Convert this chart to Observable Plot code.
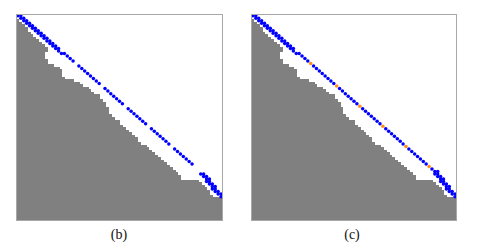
<!DOCTYPE html>
<html>
<head>
<meta charset="utf-8">
<script src="https://cdn.jsdelivr.net/npm/d3@7"></script>
<script src="https://cdn.jsdelivr.net/npm/@observablehq/plot@0.6"></script>
<style>
  html, body { margin: 0; padding: 0; background: #fff; }
  #wrap { position: relative; width: 496px; height: 252px; overflow: hidden; }
  .panel { position: absolute; top: 0; }
  .lab { position: absolute; top: 227px; font-family: "Liberation Serif", "DejaVu Serif", serif; font-size: 14px; color: #111; transform: translateX(-50%); }
</style>
</head>
<body>
<div id="wrap"></div>
<script>
// Matrix size: columns and rows
const nCols = 71;
const nRows = 82;

// Gray region: number of gray cells (from the left) in each row, rows 0..81 from top
const grayEnd = [
  0,0,1,2,3,4,4,5,6,7,8,9,10,11,
  11,10,10,10,11,11,
  13,15,16,16,16,17,20,22,23,25,
  26,27,29,29,30,31,31,32,32,32,
  33,34,36,36,37,38,39,40,41,42,
  42,43,45,46,47,48,49,50,51,52,
  53,54,55,56,57,57,63,64,65,66,
  67,67,68,71,71,71,71,71,71,71,71,71
];

// Path: column of the path cell in each row 0..72
const pathCol = [
  0,1,2,3,4,5,6,7,8,9,10,11,12,13,
  14,15,17,18,19,20,
  21,22,23,24,25,26,27,28,29,
  30,31,32,33,34,35,36,37,
  38,39,40,41,42,43,44,45,
  46,47,48,49,50,51,52,53,
  54,55,56,57,58,59,60,61,
  62,63,63,64,65,65,66,67,67,68,69,70
];

// Rows where a second path cell sits to the right (thick band / pairs)
const bandRows = [0,1,2,3,4,5,6,7,8,9,10,11,12,13,15, 62,63,64,65,66,67,68,69,70,71];

// Panel (c): rows whose path cell is orange
const orangeRows = [19,28,36,44,52,60];

// Panel (b): rows with no path cell
const missingRowsB = [19,28,36,44,52,60,61,62];

const grayRows = grayEnd.map((b, r) => ({r, b}));

function cellsFor(skip) {
  const out = [];
  pathCol.forEach((c, r) => { if (!skip.includes(r)) out.push({c, r}); });
  bandRows.forEach(r => {
    if (pathCol[r] + 1 < nCols && !(skip.includes(r) && r > 60)) out.push({c: pathCol[r] + 1, r});
  });
  return out;
}

function panel(blue, orange, left, ml, mr) {
  const chart = Plot.plot({
    width: 248, height: 226,
    marginTop: 14, marginBottom: 6, marginLeft: ml, marginRight: mr,
    x: {domain: [0, nCols], axis: null},
    y: {domain: [0, nRows], reverse: true, axis: null},
    marks: [
      Plot.rect(grayRows, {x1: 0, x2: "b", y1: "r", y2: d => d.r + 1, fill: "#808080", shapeRendering: "crispEdges"}),
      Plot.dot(blue, {x: d => d.c + 0.5, y: d => d.r + 0.5, r: 1.75, fill: "#0000ff", stroke: "none"}),
      Plot.dot(orange, {x: d => d.c + 0.5, y: d => d.r + 0.5, r: 1.75, fill: "#ff8c1a", stroke: "none"}),
      Plot.frame({stroke: "#a8a8a8", strokeWidth: 1})
    ]
  });
  chart.classList.add("panel");
  chart.style.left = left + "px";
  document.getElementById("wrap").appendChild(chart);
}

panel(cellsFor(missingRowsB), [], 0, 16, 26);
panel(cellsFor(orangeRows), orangeRows.map(r => ({c: pathCol[r], r})), 248, 3, 40);

const labels = [["(b)", 119], ["(c)", 352]];
labels.forEach(([t, x]) => {
  const d = document.createElement("div");
  d.className = "lab"; d.textContent = t; d.style.left = x + "px";
  document.getElementById("wrap").appendChild(d);
});
</script>
</body>
</html>
